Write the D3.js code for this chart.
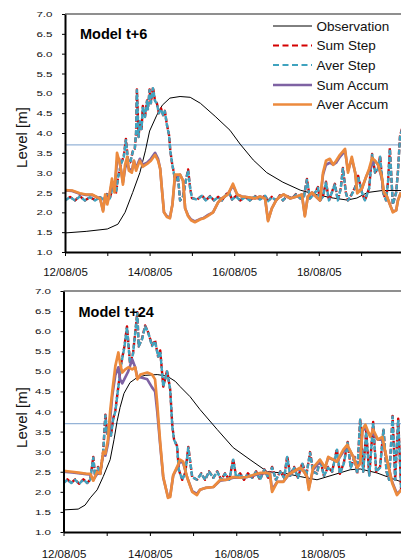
<!DOCTYPE html>
<html><head><meta charset="utf-8">
<script src="https://cdn.jsdelivr.net/npm/d3@7"></script>
<style>html,body{margin:0;padding:0;background:#fff;} svg{display:block;font-family:Arial,"Liberation Sans",sans-serif;}</style>
</head><body><svg id="chart" width="401" height="560"></svg>
<script>
// ---------- shared labels / ticks ----------
const dayTicks = [0,1,2,3,4,5,6,7,8];
const dateLabels = ["12/08/05","","14/08/05","","16/08/05","","18/08/05","",""];
const levelTicks = [1,1.5,2,2.5,3,3.5,4,4.5,5,5.5,6,6.5,7];
const seriesNames = ["Observation","Sum Step","Aver Step","Sum Accum","Aver Accum"];
const threshold = 3.7;

// ---------- Model t+6 (top) ----------  (time in days since 12/08/05 00:00)
const obsTopT = [0,0.5,1.0,1.25,1.42,1.6,1.77,1.9,2.0,2.17,2.3,2.48,2.72,2.96,3.2,3.55,3.9,4.14,4.45,4.77,5.15,5.56,5.96,6.34,6.67,6.9,7.15,7.5,8.0];
const obsTopV = [1.48,1.52,1.58,1.7,2.0,2.5,3.0,3.55,4.05,4.45,4.7,4.88,4.92,4.9,4.75,4.42,4.07,3.72,3.32,3.0,2.76,2.56,2.44,2.36,2.31,2.36,2.5,2.55,2.55];

const stepTopT = [0,0.12,0.24,0.35,0.47,0.59,0.71,0.83,0.92,0.99,
 1.06,1.13,1.21,1.25,1.32,1.39,1.44,1.49,1.54,1.61,
 1.65,1.68,1.70,1.74,1.77,1.81,1.84,1.89,1.94,1.96,
 2.00,2.03,2.08,2.13,2.17,2.22,2.27,2.32,2.36,2.41,
 2.46,2.49,2.53,2.58,2.61,2.67,2.72,2.79,2.86,2.91,
 2.96,3.00,3.12,3.24,3.33,3.43,3.52,3.62,3.71,3.81,
 3.88,3.95,4.04,4.14,4.26,4.37,4.49,4.61,4.73,4.80,
 4.89,4.99,5.08,5.15,5.25,5.37,5.46,5.56,5.65,5.72,
 5.79,5.89,5.98,6.03,6.10,6.17,6.24,6.31,6.38,6.45,
 6.52,6.57,6.64,6.69,6.78,6.86,6.93,7.02,7.09,7.19,
 7.26,7.33,7.40,7.45,7.52,7.59,7.64,7.68,7.75,7.83,
 7.87,7.92,7.97];
const averStepTopV = [2.3,2.38,2.3,2.4,2.3,2.38,2.3,2.38,2.32,2.45,
 2.35,2.64,2.5,2.85,3.2,3.4,3.82,3.3,3.25,3.55,
 3.6,4.0,5.08,3.9,4.3,4.1,4.66,4.4,4.8,4.6,
 5.08,4.75,5.13,4.8,4.75,4.5,4.6,4.45,4.55,4.2,
 3.95,3.55,3.25,2.95,2.8,2.9,2.3,2.4,2.8,3.06,
 2.6,2.36,2.32,2.42,2.3,2.4,2.3,2.38,2.3,2.45,
 2.5,2.32,2.4,2.3,2.38,2.3,2.4,2.32,2.42,2.28,
 2.38,2.3,2.42,2.3,2.4,2.35,2.45,2.35,2.4,2.82,
 2.35,2.45,2.62,2.3,2.4,2.75,2.3,2.5,2.7,2.3,
 2.6,3.1,2.5,2.3,2.45,2.62,2.9,2.5,2.3,2.6,
 3.45,3.0,3.1,3.4,2.5,2.3,2.8,3.6,2.2,2.5,
 3.0,3.9,4.1];
const sumStepTopV = [2.3,2.39,2.3,2.41,2.3,2.38,2.31,2.38,2.32,2.46,
 2.35,2.66,2.5,2.86,3.2,3.42,3.85,3.3,3.26,3.57,
 3.6,4.0,5.1,3.9,4.32,4.1,4.68,4.4,4.82,4.6,
 5.1,4.75,5.15,4.8,4.76,4.5,4.62,4.45,4.56,4.2,
 3.95,3.55,3.25,2.95,2.8,2.92,2.3,2.4,2.82,3.08,
 2.6,2.36,2.32,2.43,2.3,2.41,2.3,2.39,2.3,2.46,
 2.5,2.32,2.41,2.3,2.39,2.3,2.41,2.32,2.43,2.28,
 2.39,2.3,2.43,2.3,2.41,2.35,2.46,2.35,2.41,2.84,
 2.35,2.46,2.64,2.3,2.41,2.77,2.3,2.51,2.72,2.3,
 2.61,3.12,2.5,2.3,2.46,2.64,2.92,2.5,2.3,2.61,
 3.47,3.0,3.12,3.42,2.5,2.3,2.82,3.62,2.2,2.51,
 3.02,3.92,4.12];

const accumTopT = [0,0.17,0.35,0.50,0.64,0.76,0.83,0.90,0.95,1.00,
 1.06,1.11,1.17,1.23,1.28,1.32,1.37,1.42,1.47,1.51,
 1.58,1.63,1.68,1.73,1.77,1.84,1.94,2.03,2.13,2.20,
 2.25,2.29,2.34,2.41,2.48,2.54,2.60,2.72,2.79,2.84,
 2.91,2.98,3.07,3.19,3.28,3.36,3.50,3.62,3.71,3.85,
 3.97,4.07,4.18,4.33,4.49,4.61,4.73,4.80,4.89,4.99,
 5.08,5.17,5.32,5.48,5.60,5.67,5.74,5.84,5.93,6.03,
 6.10,6.17,6.26,6.34,6.41,6.50,6.62,6.69,6.78,6.86,
 6.91,7.02,7.12,7.19,7.26,7.33,7.40,7.49,7.54,7.61,
 7.68,7.75,7.83,7.87,7.94];
const averAccumTopV = [2.56,2.55,2.48,2.45,2.45,2.38,2.35,2.02,2.45,2.2,
 2.5,2.85,2.5,3.5,3.3,3.1,2.7,3.2,3.4,3.05,
 3.0,3.3,3.05,3.2,3.3,3.15,3.22,3.3,3.45,3.3,
 3.1,2.6,2.0,1.88,1.85,2.2,2.95,2.95,2.8,2.1,
 1.9,1.8,1.75,1.82,1.85,1.9,2.0,2.25,2.35,2.45,
 2.72,2.45,2.4,2.38,2.35,2.4,2.35,1.78,2.1,2.3,
 2.4,2.45,2.35,2.4,2.45,1.9,2.4,2.5,2.4,2.3,
 3.0,3.3,3.35,3.2,3.3,3.45,3.6,3.0,3.4,3.0,
 2.48,2.6,2.9,3.1,3.37,3.3,3.2,2.9,2.5,2.4,
 2.2,2.0,2.05,2.3,2.5];
const sumAccumTopV = [2.55,2.54,2.47,2.44,2.44,2.38,2.35,2.05,2.4,2.25,
 2.48,2.75,2.55,3.3,3.35,3.1,2.75,3.1,3.3,3.1,
 3.05,3.3,3.1,3.25,3.35,3.2,3.25,3.35,3.5,3.35,
 3.1,2.6,2.0,1.9,1.87,2.2,2.9,2.95,2.8,2.1,
 1.92,1.82,1.77,1.83,1.86,1.92,2.0,2.25,2.35,2.45,
 2.68,2.45,2.4,2.38,2.35,2.4,2.35,1.8,2.1,2.3,
 2.4,2.45,2.35,2.4,2.45,1.92,2.4,2.5,2.4,2.3,
 2.95,3.2,3.25,3.2,3.25,3.4,3.55,3.05,3.35,3.0,
 2.5,2.6,2.9,3.05,3.2,3.3,3.2,2.85,2.5,2.4,
 2.2,2.02,2.05,2.3,2.5];

// ---------- Model t+24 (bottom) ----------
const obsBotT = [0,0.34,0.50,0.62,0.78,0.92,1.08,1.17,1.24,1.31,1.40,1.54,1.71,1.89,2.17,2.40,2.59,2.70,2.93,3.16,3.56,3.93,4.32,4.72,5.09,5.48,5.87,6.24,6.64,6.87,7.26,7.56,7.82,8.0];
const obsBotV = [1.55,1.57,1.67,1.85,2.05,2.38,2.8,3.3,3.75,4.1,4.45,4.72,4.85,4.9,4.92,4.88,4.75,4.62,4.37,4.05,3.55,3.1,2.8,2.5,2.47,2.38,2.3,2.42,2.55,2.57,2.47,2.35,2.25,2.2];

const stepBotT = [0,0.09,0.18,0.27,0.36,0.46,0.55,0.62,0.69,0.73,
 0.80,0.85,0.92,0.97,1.01,1.06,1.10,1.15,1.20,1.27,
 1.34,1.41,1.47,1.54,1.61,1.71,1.74,1.82,1.89,1.96,
 2.05,2.12,2.19,2.24,2.31,2.40,2.47,2.52,2.56,2.63,
 2.67,2.75,2.82,2.89,2.98,3.09,3.19,3.28,3.37,3.47,
 3.56,3.65,3.74,3.84,3.93,4.00,4.09,4.18,4.27,4.37,
 4.46,4.55,4.65,4.74,4.83,4.92,5.02,5.11,5.18,5.25,
 5.34,5.43,5.53,5.62,5.71,5.78,5.87,5.94,6.03,6.13,
 6.22,6.33,6.40,6.49,6.58,6.65,6.74,6.80,6.87,6.94,
 7.01,7.08,7.17,7.24,7.33,7.41,7.48,7.54,7.62,7.68,
 7.75,7.82];
const averStepBotV = [2.22,2.3,2.22,2.3,2.2,2.3,2.22,2.3,2.85,2.4,
 2.6,2.45,3.0,3.9,3.45,3.6,3.4,3.8,4.0,4.6,
 5.2,5.6,6.1,5.2,5.43,6.45,5.62,5.8,6.12,5.97,
 5.63,5.75,5.37,5.5,4.62,5.0,4.55,3.62,3.3,3.12,
 2.55,2.3,2.47,3.1,2.37,2.3,2.45,2.3,2.5,2.35,
 2.5,2.3,2.45,2.3,2.8,2.35,2.45,2.3,2.45,2.35,
 2.5,2.3,2.55,2.35,2.6,2.3,2.5,2.35,2.87,2.4,
 2.6,2.35,2.7,2.4,2.97,2.5,2.45,2.8,2.4,2.6,
 2.5,3.05,2.45,2.7,3.22,2.6,2.85,2.45,3.8,2.5,
 3.5,2.4,3.72,2.5,2.6,3.55,2.5,2.3,3.87,2.3,
 3.8,2.0];
const sumStepBotV = [2.22,2.31,2.22,2.31,2.2,2.31,2.22,2.31,2.87,2.4,
 2.62,2.45,3.02,3.92,3.45,3.62,3.4,3.82,4.02,4.62,
 5.22,5.62,6.12,5.2,5.45,6.47,5.62,5.82,6.14,5.97,
 5.65,5.77,5.37,5.52,4.62,5.02,4.55,3.64,3.3,3.14,
 2.55,2.3,2.48,3.12,2.37,2.3,2.46,2.3,2.51,2.35,
 2.51,2.3,2.46,2.3,2.82,2.35,2.46,2.3,2.46,2.35,
 2.51,2.3,2.56,2.35,2.62,2.3,2.51,2.35,2.89,2.4,
 2.62,2.35,2.72,2.4,2.99,2.5,2.46,2.82,2.4,2.62,
 2.5,3.07,2.45,2.72,3.24,2.6,2.87,2.45,3.82,2.5,
 3.52,2.4,3.74,2.5,2.62,3.57,2.5,2.3,3.89,2.3,
 3.82,2.0];

const accumBotT = [0,0.20,0.39,0.53,0.62,0.69,0.78,0.85,0.92,0.97,
 1.03,1.08,1.13,1.20,1.27,1.31,1.36,1.43,1.50,1.59,
 1.66,1.71,1.78,1.94,2.05,2.12,2.17,2.24,2.31,2.42,
 2.47,2.54,2.63,2.70,2.77,2.86,2.98,3.09,3.16,3.30,
 3.47,3.63,3.77,3.93,4.09,4.25,4.39,4.55,4.71,4.78,
 4.83,4.95,5.09,5.20,5.32,5.48,5.57,5.64,5.68,5.78,
 5.94,6.06,6.13,6.25,6.33,6.48,6.57,6.71,6.80,6.87,
 6.92,6.99,7.10,7.17,7.28,7.38,7.49,7.61,7.72,7.82];
const averAccumBotV = [2.52,2.5,2.47,2.45,2.45,2.28,2.5,2.45,3.0,2.95,
 3.3,4.0,4.5,5.13,5.47,5.2,4.97,5.05,5.1,5.05,
 5.1,4.8,4.92,4.97,4.92,4.8,4.2,3.22,2.37,1.85,
 1.87,2.42,2.62,2.8,2.75,2.37,2.0,1.92,2.05,2.1,
 2.12,2.3,2.3,2.37,2.35,2.37,2.42,2.47,2.47,2.45,
 2.0,2.25,2.25,2.42,2.5,2.6,2.5,2.37,2.05,2.6,
 2.8,2.6,2.87,2.8,2.75,3.05,3.17,2.87,2.6,2.7,
 3.55,3.67,3.37,3.55,3.3,3.37,2.8,2.22,1.92,2.05];
const sumAccumBotV = [2.5,2.48,2.46,2.44,2.43,2.3,2.45,2.45,2.95,2.9,
 3.2,3.8,4.4,4.9,5.1,4.8,4.7,4.85,5.0,5.3,
 5.1,4.85,4.85,4.8,4.6,4.5,4.0,3.15,2.35,1.87,
 1.9,2.4,2.6,2.75,2.72,2.37,2.02,1.95,2.05,2.1,
 2.12,2.28,2.3,2.35,2.35,2.37,2.4,2.45,2.47,2.45,
 2.05,2.25,2.25,2.4,2.5,2.58,2.5,2.37,2.1,2.55,
 2.75,2.6,2.85,2.8,2.75,3.0,3.15,2.87,2.6,2.75,
 3.5,3.6,3.4,3.45,3.3,3.3,2.8,2.25,1.95,2.05];

// ---------- styles ----------
const styles = [
  {color:"#000000", width:1,   dash:null,   legendDash:null},
  {color:"#D40000", width:2.4, dash:"5,2",  legendDash:"6,3.5", offset:3},
  {color:"#3FA3BF", width:2.4, dash:"5,2",  legendDash:"6,3.5", offset:0},
  {color:"#7E62A3", width:2.6, dash:null,   legendDash:null},
  {color:"#EC8A3D", width:2.7, dash:null,   legendDash:null}
];

const svg = d3.select("#chart");

function drawPanel(cfg){
  const x = d3.scaleLinear().domain([0,8]).range([cfg.left, cfg.right]);
  const y = d3.scaleLinear().domain([1,7]).range([cfg.bottom, cfg.top]);
  const g = svg.append("g");
  const clipId = "clip" + cfg.id;
  svg.append("clipPath").attr("id", clipId).append("rect")
    .attr("x", cfg.left).attr("y", cfg.top).attr("width", 420 - cfg.left).attr("height", cfg.bottom - cfg.top);

  // top border
  g.append("line").attr("x1", cfg.left).attr("x2", 420).attr("y1", cfg.top).attr("y2", cfg.top)
    .attr("stroke", "#6a6a6a").attr("stroke-width", 1.4);

  // threshold line
  g.append("line").attr("x1", cfg.left).attr("x2", 420).attr("y1", y(threshold)).attr("y2", y(threshold))
    .attr("stroke", "#95B3D7").attr("stroke-width", 1.3);

  const line = d3.line().x(d => x(d[0])).y(d => y(d[1]));
  const plot = g.append("g").attr("clip-path", `url(#${clipId})`);
  cfg.series.forEach((s, i) => {
    const st = styles[i];
    const pts = s.t.map((t, k) => [t, s.v[k]]);
    const p = plot.append("path").datum(pts).attr("d", line)
      .attr("fill", "none").attr("stroke", st.color).attr("stroke-width", st.width)
      .attr("stroke-linejoin", "round");
    if (st.dash) p.attr("stroke-dasharray", st.dash).attr("stroke-dashoffset", st.offset);
  });

  // y axis
  const ya = g.append("g").attr("transform", `translate(${cfg.left},0)`)
    .call(d3.axisLeft(y).tickValues(levelTicks).tickFormat(d3.format(".1f")).tickSize(3).tickSizeOuter(0));
  ya.select(".domain").attr("stroke", "#000").attr("stroke-width", 2);
  ya.selectAll(".tick line").attr("stroke", "#000").attr("stroke-width", 1);
  ya.selectAll(".tick text").attr("x", 0).attr("transform", "translate(-12.5,0) scale(1.45,1)")
    .attr("font-size", 8).attr("fill", "#111").attr("font-family", "Arial, 'Liberation Sans', sans-serif");

  // x axis
  const xa = g.append("g").attr("transform", `translate(0,${cfg.bottom})`)
    .call(d3.axisBottom(x).tickValues(dayTicks).tickFormat((d, i) => dateLabels[i]).tickSize(4).tickSizeOuter(0));
  xa.select(".domain").attr("stroke", "#000").attr("stroke-width", 2);
  xa.selectAll(".tick line").attr("stroke", "#000").attr("stroke-width", 1);
  xa.selectAll(".tick text").attr("y", cfg.labelY).attr("font-size", 11.5).attr("fill", "#111")
    .attr("font-family", "Arial, 'Liberation Sans', sans-serif");

  // y title
  g.append("text").attr("transform", `translate(27,${cfg.titleYc}) rotate(-90)`)
    .attr("text-anchor", "middle").attr("font-size", 15).attr("fill", "#111").text("Level [m]");

  // panel title
  g.append("text").attr("x", cfg.tx).attr("y", cfg.ty).attr("font-size", 14.5).attr("font-weight", "bold")
    .attr("fill", "#000").text(cfg.title);

  if (cfg.legend) {
    const lg = g.append("g");
    const rows = [26, 45.5, 65, 85, 104.5];
    seriesNames.forEach((n, i) => {
      const st = styles[i];
      const ln = lg.append("line").attr("x1", 273).attr("x2", 312).attr("y1", rows[i]).attr("y2", rows[i])
        .attr("stroke", st.color).attr("stroke-width", i === 0 ? 1 : (i < 3 ? 2 : 2.6));
      if (st.legendDash) ln.attr("stroke-dasharray", st.legendDash);
      lg.append("text").attr("x", 316.5).attr("y", rows[i]).attr("dy", "0.36em")
        .attr("font-size", 13.5).attr("fill", "#111").text(n);
    });
  }
}

drawPanel({
  id: "top", left: 65, right: 403.4, top: 14, bottom: 252, labelY: 16.3, titleYc: 137.5,
  title: "Model t+6", tx: 80, ty: 38.5, legend: true,
  series: [
    {t: obsTopT, v: obsTopV},
    {t: stepTopT, v: sumStepTopV},
    {t: stepTopT, v: averStepTopV},
    {t: accumTopT, v: sumAccumTopV},
    {t: accumTopT, v: averAccumTopV}
  ]
});
drawPanel({
  id: "bot", left: 63.5, right: 409, top: 291, bottom: 532, labelY: 17.8, titleYc: 417.5,
  title: "Model t+24", tx: 78.5, ty: 317, legend: false,
  series: [
    {t: obsBotT, v: obsBotV},
    {t: stepBotT, v: sumStepBotV},
    {t: stepBotT, v: averStepBotV},
    {t: accumBotT, v: sumAccumBotV},
    {t: accumBotT, v: averAccumBotV}
  ]
});
</script></body></html>
